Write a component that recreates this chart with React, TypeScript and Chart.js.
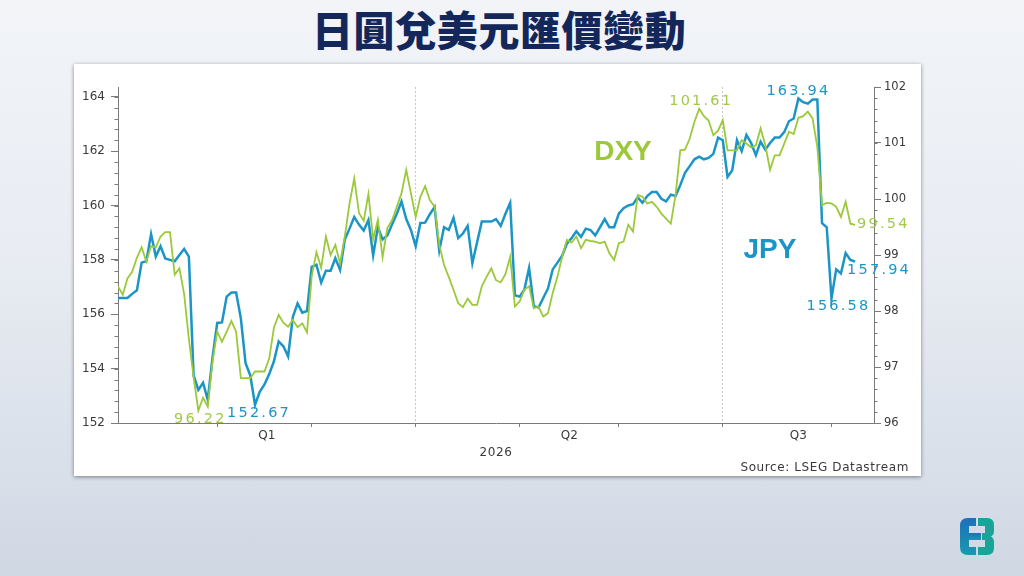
import { useEffect, useRef } from 'react'
import { Chart, registerables, type Plugin } from 'chart.js'

Chart.register(...registerables)

const JPY_COLOR = '#1b95c5'
const DXY_COLOR = '#9bc93a'
const DXY_LABEL = '#a2c94a'
const AXIS = '#7a7a7a'
const TICK_TEXT = '#3a3a3a'
const FONT = "'DejaVu Sans', Verdana, sans-serif"

// JPY per USD (left axis), one value per trading day
const JPY = [
  156.6, 156.6, 156.6, 156.75, 156.88, 157.9, 157.95, 158.95, 158.12, 158.5,
  158.05, 158.0, 157.95, 158.18, 158.4, 158.12, 153.75, 153.22, 153.48, 152.85,
  154.4, 155.68, 155.7, 156.65, 156.8, 156.8, 155.85, 154.2, 153.75, 152.67,
  153.15, 153.42, 153.8, 154.27, 155.0, 154.82, 154.45, 155.9, 156.4, 156.06,
  156.12, 157.74, 157.82, 157.17, 157.6, 157.6, 158.06, 157.63, 158.75, 159.15,
  159.58, 159.3, 159.08, 159.47, 158.17, 159.2, 158.75, 158.9, 159.3, 159.7,
  160.15, 159.5, 159.1, 158.5, 159.36, 159.37, 159.68, 159.94, 158.35, 159.2,
  159.1, 159.54, 158.8, 158.97, 159.25, 157.88, 158.65, 159.41, 159.41, 159.41,
  159.5, 159.25, 159.7, 160.1, 156.7, 156.65, 156.9, 157.7, 156.3, 156.25,
  156.6, 156.95, 157.65, 157.9, 158.15, 158.6, 158.8, 159.05, 158.85, 159.15,
  159.1, 158.9, 159.2, 159.5, 159.2, 159.2, 159.7, 159.9, 160.0, 160.05,
  160.3, 160.1, 160.35, 160.5, 160.5, 160.25, 160.15, 160.4, 160.35, 160.75,
  161.2, 161.45, 161.7, 161.8, 161.7, 161.75, 161.9, 162.5, 162.4, 161.05,
  161.3, 162.4, 162.0, 162.6, 162.3, 161.85, 162.35, 162.05, 162.3, 162.5,
  162.5, 162.7, 163.1, 163.2, 163.94, 163.8, 163.75, 163.9, 163.9, 159.35,
  159.2, 156.58, 157.65, 157.5, 158.25, 158.0, 157.94,
]

// US dollar index (right axis)
const DXY = [
  98.44, 98.29, 98.58, 98.7, 98.95, 99.14, 98.88, 99.16, 99.13, 99.33,
  99.41, 99.41, 98.65, 98.76, 98.3, 97.5, 96.82, 96.22, 96.45, 96.29,
  97.1, 97.63, 97.45, 97.63, 97.82, 97.63, 96.8, 96.8, 96.8, 96.92,
  96.92, 96.92, 97.15, 97.7, 97.93, 97.79, 97.72, 97.84, 97.71, 97.78,
  97.62, 98.62, 99.05, 98.77, 99.33, 99.0, 99.18, 98.85, 99.33, 99.92,
  100.37, 99.75, 99.61, 100.09, 99.28, 99.63, 98.96, 99.48, 99.62, 99.86,
  100.1, 100.52, 100.1, 99.68, 100.04, 100.23, 99.98, 99.86, 99.18, 98.82,
  98.61, 98.38, 98.14, 98.07, 98.22, 98.11, 98.11, 98.44, 98.61, 98.76,
  98.55, 98.51, 98.66, 98.97, 98.08, 98.17, 98.38, 98.44, 98.05, 98.08,
  97.9, 97.96, 98.32, 98.61, 98.97, 99.27, 99.22, 99.33, 99.12, 99.27,
  99.25, 99.24, 99.21, 99.24, 99.03, 98.91, 99.21, 99.24, 99.54, 99.42,
  100.07, 100.04, 99.92, 99.95, 99.86, 99.74, 99.65, 99.56, 100.07, 100.87,
  100.88, 101.08, 101.38, 101.61, 101.48, 101.4, 101.14, 101.22, 101.41, 100.87,
  100.87, 100.87, 101.05, 100.99, 100.92, 100.96, 101.26, 100.96, 100.52, 100.78,
  100.78, 100.99, 101.2, 101.16, 101.45, 101.48, 101.56, 101.44, 100.93, 99.89,
  99.93, 99.92, 99.86, 99.68, 99.95, 99.56, 99.54,
]

const LEFT_TICKS = [152, 154, 156, 158, 160, 162, 164]
const RIGHT_TICKS = [96, 97, 98, 99, 100, 101, 102]
const MONTH_TICKS = [21, 41, 63, 85, 106, 128, 151]
const QUARTER_BOUNDS = [63, 128]
const QUARTER_CENTERS = [31.5, 95.5, 144]
const QUARTER_LABELS = ['Q1', 'Q2', 'Q3']
const YEAR_LABEL = '2026'
const SOURCE = 'Source: LSEG Datastream'

const argMax = (a: number[], from = 0) => a.reduce((best, v, i) => (i >= from && v > a[best] ? i : best), from)
const argMin = (a: number[], from = 0) => a.reduce((best, v, i) => (i >= from && v < a[best] ? i : best), from)

const overlay: Plugin<'line'> = {
  id: 'overlay',
  afterDatasetsDraw(chart) {
    const { ctx, chartArea: a, scales } = chart
    const x = scales.x
    const yL = scales.yL
    const yR = scales.yR
    ctx.save()

    // minor ticks on both value axes
    ctx.strokeStyle = AXIS
    ctx.lineWidth = 1
    ctx.beginPath()
    for (let k = 0; 152 + k * 0.4 <= yL.max + 1e-6; k++) {
      const py = Math.round(yL.getPixelForValue(152 + k * 0.4)) + 0.5
      ctx.moveTo(a.left - 3.5, py)
      ctx.lineTo(a.left, py)
    }
    for (let k = 0; 96 + k * 0.2 <= yR.max + 1e-6; k++) {
      const py = Math.round(yR.getPixelForValue(96 + k * 0.2)) + 0.5
      ctx.moveTo(a.right, py)
      ctx.lineTo(a.right + 3.5, py)
    }
    ctx.stroke()

    // value call-outs
    const put = (text: string, px: number, py: number, color: string, align: CanvasTextAlign) => {
      ctx.fillStyle = color
      ctx.textAlign = align
      ctx.fillText(text, px, py)
    }
    ctx.font = `14.5px ${FONT}`
    ;(ctx as any).letterSpacing = '2.2px'
    ctx.textBaseline = 'alphabetic'

    const jMax = argMax(JPY)
    const jMin = argMin(JPY)
    const jMin2 = argMin(JPY, jMax)
    const dMax = argMax(DXY)
    const dMin = argMin(DXY)
    const jLast = JPY.length - 1
    const dLast = DXY.length - 1

    const jx = (i: number) => x.getPixelForValue(i)
    const jy = (i: number) => yL.getPixelForValue(JPY[i])
    const dy = (i: number) => yR.getPixelForValue(DXY[i])

    put(DXY[dMin].toFixed(2), jx(dMin) + 2, dy(dMin) + 12, DXY_LABEL, 'center')
    put(JPY[jMin].toFixed(2), jx(jMin) + 4, jy(jMin) + 12, JPY_COLOR, 'center')
    put(DXY[dMax].toFixed(2), jx(dMax) + 2, dy(dMax) - 3.5, DXY_LABEL, 'center')
    put(JPY[jMax].toFixed(2), jx(jMax), jy(jMax) - 3.5, JPY_COLOR, 'center')
    put(JPY[jMin2].toFixed(2), jx(jMin2) + 7, jy(jMin2) + 12, JPY_COLOR, 'center')
    put(JPY[jLast].toFixed(2), jx(jLast) - 8, jy(jLast) + 12, JPY_COLOR, 'left')
    put(DXY[dLast].toFixed(2), jx(dLast) + 2, dy(dLast) + 3, DXY_LABEL, 'left')

    // series names
    ;(ctx as any).letterSpacing = '0px'
    ctx.font = `bold 28px 'Liberation Sans', Arial, sans-serif`
    put('DXY', 549, 96, DXY_COLOR, 'center')
    put('JPY', 696, 194, JPY_COLOR, 'center')

    // year and source
    ctx.font = `12px ${FONT}`
    ;(ctx as any).letterSpacing = '0.6px'
    put(YEAR_LABEL, (a.left + a.right) / 2, 392, TICK_TEXT, 'center')
    put(SOURCE, 835, 407, TICK_TEXT, 'right')
    ctx.restore()
  },
}

function FubonMark() {
  return (
    <svg width="36" height="38" viewBox="0 0 36 38" style={{ position: 'absolute', left: 960, top: 518 }}>
      <defs>
        <linearGradient id="fbL" x1="0" y1="0" x2="0" y2="1">
          <stop offset="0" stopColor="#1f6fb8" />
          <stop offset="1" stopColor="#1899b0" />
        </linearGradient>
      </defs>
      <path d="M0 8 Q0 0 8 0 H16 V8 H9 V29 H16 V37 H8 Q0 37 0 29 Z" fill="url(#fbL)" />
      <path d="M9 15 H21 V22 H9 Z" fill="url(#fbL)" />
      <path
        d="M18 0 H27 Q34 0 34 7 V13 Q34 17 31 18.5 Q34 20 34 24 V30 Q34 37 27 37 H18 V29 H25 V22 H22 V15 H25 V8 H18 Z"
        fill="#16a596"
      />
    </svg>
  )
}

export default function App() {
  const canvasRef = useRef<HTMLCanvasElement>(null)

  useEffect(() => {
    const canvas = canvasRef.current
    if (!canvas) return
    Chart.getChart(canvas)?.destroy()

    const chart = new Chart(canvas, {
      type: 'line',
      data: {
        datasets: [
          {
            label: 'DXY',
            data: DXY.map((y, i) => ({ x: i, y })),
            yAxisID: 'yR',
            borderColor: DXY_COLOR,
            borderWidth: 1.8,
            pointRadius: 0,
            tension: 0,
          },
          {
            label: 'JPY',
            data: JPY.map((y, i) => ({ x: i, y })),
            yAxisID: 'yL',
            borderColor: JPY_COLOR,
            borderWidth: 2.5,
            pointRadius: 0,
            tension: 0,
          },
        ],
      },
      options: {
        responsive: true,
        maintainAspectRatio: false,
        animation: false,
        layout: { padding: { top: 23, left: 0, right: 0, bottom: 0 } },
        plugins: { legend: { display: false }, tooltip: { enabled: false } },
        scales: {
          x: {
            type: 'linear',
            min: 0,
            max: 160,
            afterBuildTicks: (axis) => {
              axis.ticks = [...MONTH_TICKS, ...QUARTER_CENTERS].sort((p, q) => p - q).map((value) => ({ value }))
            },
            afterFit: (axis) => { axis.height = 53 },
            grid: {
              color: (c: any) => (QUARTER_BOUNDS.includes(c.tick?.value) ? '#c8c8c8' : 'rgba(0,0,0,0)'),
              tickColor: (c: any) => (MONTH_TICKS.includes(c.tick?.value) ? AXIS : 'rgba(0,0,0,0)'),
              tickLength: 4,
            },
            border: { display: true, color: AXIS, dash: [2, 2] },
            ticks: {
              autoSkip: false,
              maxRotation: 0,
              padding: 2,
              color: TICK_TEXT,
              font: { family: FONT, size: 12 },
              callback: (value) => {
                const k = QUARTER_CENTERS.indexOf(Number(value))
                return k >= 0 ? QUARTER_LABELS[k] : ''
              },
            },
          },
          yL: {
            type: 'linear',
            position: 'left',
            min: 152,
            max: 164.36,
            afterBuildTicks: (axis) => { axis.ticks = LEFT_TICKS.map((value) => ({ value })) },
            afterFit: (axis) => { axis.width = 44 },
            grid: { drawOnChartArea: false, tickLength: 7, tickColor: AXIS },
            border: { display: true, color: AXIS },
            ticks: { color: TICK_TEXT, font: { family: FONT, size: 12 }, padding: 6 },
          },
          yR: {
            type: 'linear',
            position: 'right',
            min: 96,
            max: 102,
            afterBuildTicks: (axis) => { axis.ticks = RIGHT_TICKS.map((value) => ({ value })) },
            afterFit: (axis) => { axis.width = 47 },
            grid: { drawOnChartArea: false, tickLength: 7, tickColor: AXIS },
            border: { display: true, color: AXIS },
            ticks: { color: TICK_TEXT, font: { family: FONT, size: 11.5 }, padding: 3 },
          },
        },
      },
      plugins: [overlay],
    })

    return () => chart.destroy()
  }, [])

  return (
    <div
      style={{
        position: 'fixed',
        left: 0,
        top: 0,
        width: 1024,
        height: 576,
        overflow: 'hidden',
        background: 'linear-gradient(180deg, #f2f4f8 0%, #e8ecf2 45%, #d9e0ea 80%, #cfd7e3 100%)',
      }}
    >
      <div
        style={{
          position: 'absolute',
          left: 312,
          top: 8,
          whiteSpace: 'nowrap',
          fontFamily: "'Noto Sans CJK TC', 'Noto Sans CJK SC', sans-serif",
          fontWeight: 900,
          fontSize: 41,
          lineHeight: '41px',
          letterSpacing: 0.6,
          color: '#13275b',
        }}
      >
        日圓兌美元匯價變動
      </div>
      <div
        style={{
          position: 'absolute',
          left: 74,
          top: 64,
          width: 847,
          height: 412,
          background: '#ffffff',
          boxShadow: '0 1px 4px rgba(0,0,0,0.45)',
        }}
      >
        <canvas ref={canvasRef} />
      </div>
      <FubonMark />
    </div>
  )
}
